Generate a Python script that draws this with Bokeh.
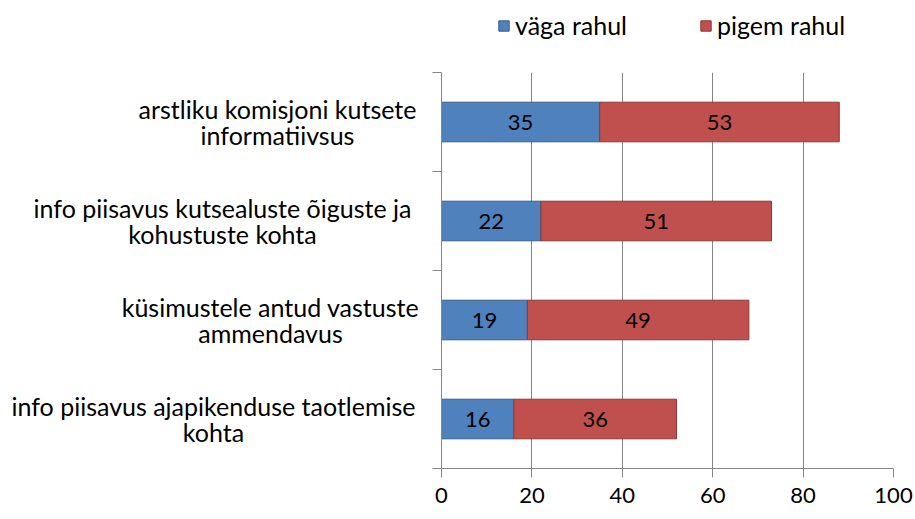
from bokeh.plotting import figure
from bokeh.layouts import column, row
from bokeh.models import (ColumnDataSource, Range1d, FixedTicker, Legend, LegendItem,
                          LabelSet)
from bokeh.core.properties import value
from bokeh.embed import file_html
from bokeh.resources import INLINE

# bottom-to-top order (first category is drawn lowest)
cat_line1 = ["info piisavus ajapikenduse taotlemise", "küsimustele antud vastuste",
             "info piisavus kutsealuste õiguste ja", "arstliku komisjoni kutsete"]
cat_line2 = ["kohta", "ammendavus", "kohustuste kohta", "informatiivsus"]
vaga_rahul = [16, 19, 22, 35]
pigem_rahul = [36, 49, 51, 53]
series_names = ["väga rahul", "pigem rahul"]
x_ticks = [0, 20, 40, 60, 80, 100]

# layout: horizontal centre (px) of each category label block
label_centers = [213, 270, 222, 277]

FONT = "Lato"
COL_A, LINE_A = "#4F81BD", "#385D8A"
COL_B, LINE_B = "#C0504D", "#8C3836"
AXIS_COL = "#868686"

n = len(cat_line1)
ypos = [i + 0.5 for i in range(n)]
src = ColumnDataSource(dict(
    y=ypos,
    a_end=vaga_rahul,
    b_end=[a + b for a, b in zip(vaga_rahul, pigem_rahul)],
    a_mid=[a / 2 for a in vaga_rahul],
    b_mid=[a + b / 2 for a, b in zip(vaga_rahul, pigem_rahul)],
    a_txt=[str(v) for v in vaga_rahul],
    b_txt=[str(v) for v in pigem_rahul],
))
yr = Range1d(0, n)

# ---------------- main chart ----------------
p = figure(frame_width=452, frame_height=396, output_backend="svg", toolbar_location=None,
           x_range=Range1d(0, 100), y_range=yr,
           min_border_left=21, min_border_right=22, min_border_top=0,
           min_border_bottom=51)
p.outline_line_color = None

p.hbar(y="y", left=0, right="a_end", height=0.4, source=src,
       fill_color=COL_A, line_color=LINE_A, line_width=1)
p.hbar(y="y", left="a_end", right="b_end", height=0.4, source=src,
       fill_color=COL_B, line_color=LINE_B, line_width=1)

for col_x, col_t in (("a_mid", "a_txt"), ("b_mid", "b_txt")):
    p.add_layout(LabelSet(x=col_x, y="y", text=col_t, source=src,
                          text_align="center", text_baseline="middle",
                          text_font=value(FONT), text_font_size="22px",
                          text_color="black"))

p.ygrid.visible = False
p.xgrid.ticker = FixedTicker(ticks=x_ticks[1:])
p.xgrid.grid_line_color = AXIS_COL
p.xgrid.grid_line_width = 1

xa = p.xaxis[0]
xa.ticker = FixedTicker(ticks=x_ticks)
xa.axis_line_color = AXIS_COL
xa.major_tick_line_color = AXIS_COL
xa.major_tick_out = 9
xa.major_tick_in = 0
xa.minor_tick_line_color = None
xa.major_label_text_font = FONT
xa.major_label_text_font_size = "22px"
xa.major_label_text_color = "black"
xa.major_label_standoff = 10

ya = p.yaxis[0]
bounds = list(range(n + 1))
ya.ticker = FixedTicker(ticks=bounds)
ya.major_label_overrides = {b: "" for b in bounds}
ya.major_label_standoff = 0
ya.axis_line_color = AXIS_COL
ya.major_tick_line_color = AXIS_COL
ya.major_tick_out = 9
ya.major_tick_in = 0
ya.minor_tick_line_color = None

# ---------------- category labels ----------------
lab = figure(frame_width=420, frame_height=396, output_backend="svg", toolbar_location=None,
             x_range=Range1d(0, 420), y_range=yr, x_axis_type=None, y_axis_type=None,
             min_border_left=0, min_border_right=0, min_border_top=0,
             min_border_bottom=51)
lab.outline_line_color = None
lsrc = ColumnDataSource(dict(x=label_centers, y=ypos, t1=cat_line1, t2=cat_line2))
lab.text(x="x", y="y", text="t1", source=lsrc, y_offset=-13,
         text_align="center", text_baseline="middle",
         text_font=value(FONT), text_font_size="25px", text_color="black")
lab.text(x="x", y="y", text="t2", source=lsrc, y_offset=13,
         text_align="center", text_baseline="middle",
         text_font=value(FONT), text_font_size="25px", text_color="black")

# ---------------- legend strip ----------------
leg = figure(width=915, height=72, output_backend="svg", toolbar_location=None,
             x_range=Range1d(0, 915), y_range=Range1d(0, 72),
             x_axis_type=None, y_axis_type=None, min_border=0)
leg.outline_line_color = None
# legend proxies: same series, hidden in this strip
la = leg.hbar(y="y", left=0, right="a_end", height=0.4, source=src,
              fill_color=COL_A, line_color=LINE_A, visible=False)
lb = leg.hbar(y="y", left="a_end", right="b_end", height=0.4, source=src,
              fill_color=COL_B, line_color=LINE_B, visible=False)
legend = Legend(items=[LegendItem(label=series_names[0], renderers=[la]),
                       LegendItem(label=series_names[1], renderers=[lb])],
                orientation="horizontal", location=(497, 32),
                border_line_alpha=0, background_fill_alpha=0,
                inactive_fill_alpha=0,
                label_text_font=FONT, label_text_font_size="25px",
                label_text_color="black",
                glyph_width=13, glyph_height=13, spacing=72, padding=0,
                margin=0, label_standoff=5)
leg.add_layout(legend, "center")

layout = column(leg, row(lab, p, spacing=0), spacing=0)
open("out.html", "w").write(file_html(layout, INLINE))
